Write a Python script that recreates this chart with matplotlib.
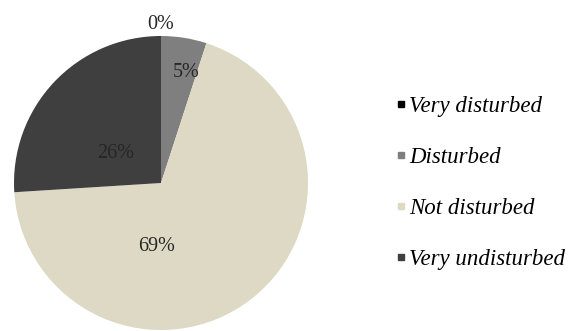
import matplotlib.pyplot as plt
from matplotlib.lines import Line2D

labels = ['Very disturbed', 'Disturbed', 'Not disturbed', 'Very undisturbed']
values = [0, 5, 69, 26]
colors = ['#000000', '#7f7f7f', '#ddd9c4', '#3f3f3f']
# where each percentage sits, in pie radius units
label_pos = [(0.0, 1.08), (0.17, 0.755), (-0.03, -0.43), (-0.31, 0.20)]

plt.rcParams['font.family'] = ['Liberation Serif', 'DejaVu Serif']

W, H = 571, 331
fig = plt.figure(figsize=(W / 100, H / 100), dpi=100)

# pie centre (161, 183) px from top-left, radius 147 px
cx, cy, r = 161, 183, 147
ax = fig.add_axes([(cx - r) / W, (H - cy - r) / H, 2 * r / W, 2 * r / H])
ax.pie(values, colors=colors, startangle=90, counterclock=False,
       radius=1, wedgeprops=dict(linewidth=0))
ax.set_xlim(-1, 1)
ax.set_ylim(-1, 1)
ax.set_aspect('equal')

for v, (x, y) in zip(values, label_pos):
    ax.text(x, y, f'{v}%', ha='center', va='center', fontsize=14.5,
            color='#262626', clip_on=False)

handles = [Line2D([], [], linestyle='none', marker='s', markersize=5,
                  markerfacecolor=c, markeredgecolor=c) for c in colors]
fig.legend(handles, labels, loc='center left',
           bbox_to_anchor=(384 / W, 1 - 183 / H), frameon=False,
           prop=dict(style='italic', size=16.5), labelspacing=1.3,
           handlelength=0.45, handletextpad=0.15, borderpad=0)

fig.savefig('out.png', dpi=100)
